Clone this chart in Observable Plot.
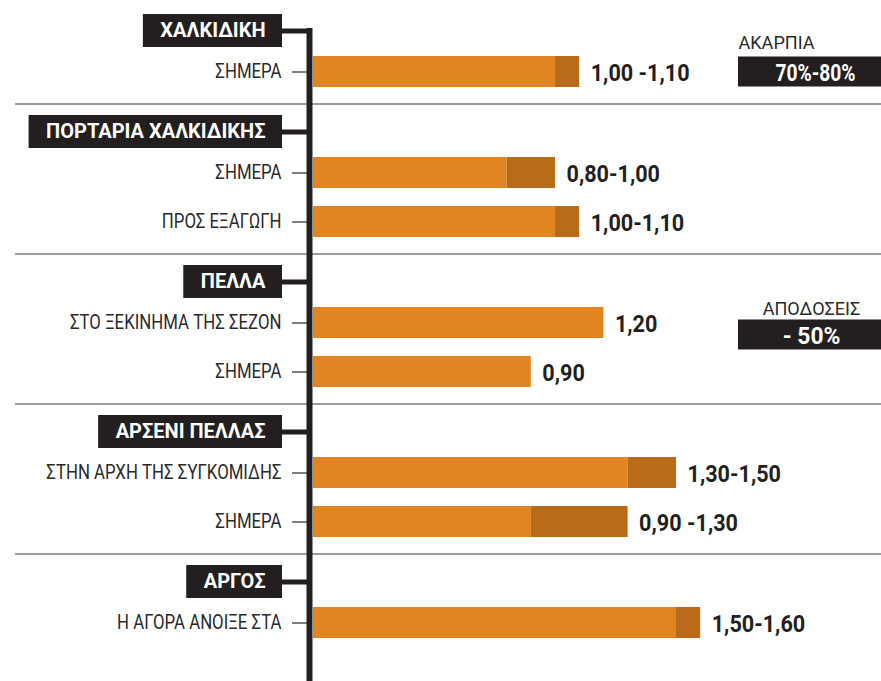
<!DOCTYPE html>
<html>
<head>
<meta charset="utf-8">
<script src="https://cdn.jsdelivr.net/npm/d3@7"></script>
<script src="https://cdn.jsdelivr.net/npm/@observablehq/plot@0.6"></script>
<style>
  html, body { margin: 0; padding: 0; background: #fff; }
</style>
</head>
<body>
<div id="chart"></div>
<script>
// ---- data ----
const regions = ["ΧΑΛΚΙΔΙΚΗ", "ΠΟΡΤΑΡΙΑ ΧΑΛΚΙΔΙΚΗΣ", "ΠΕΛΛΑ", "ΑΡΣΕΝΙ ΠΕΛΛΑΣ", "ΑΡΓΟΣ"];
const rowRegion = [0, 1, 1, 2, 2, 3, 3, 4];
const rowLabels = ["ΣΗΜΕΡΑ", "ΣΗΜΕΡΑ", "ΠΡΟΣ ΕΞΑΓΩΓΗ", "ΣΤΟ ΞΕΚΙΝΗΜΑ ΤΗΣ ΣΕΖΟΝ", "ΣΗΜΕΡΑ", "ΣΤΗΝ ΑΡΧΗ ΤΗΣ ΣΥΓΚΟΜΙΔΗΣ", "ΣΗΜΕΡΑ", "Η ΑΓΟΡΑ ΑΝΟΙΞΕ ΣΤΑ"];
const priceLow  = [1.00, 0.80, 1.00, 1.20, 0.90, 1.30, 0.90, 1.50];
const priceHigh = [1.10, 1.00, 1.10, null, null, 1.50, 1.30, 1.60];
const priceLabels = ["1,00 -1,10", "0,80-1,00", "1,00-1,10", "1,20", "0,90", "1,30-1,50", "0,90 -1,30", "1,50-1,60"];
const noteTitles = ["ΑΚΑΡΠΙΑ", "ΑΠΟΔΟΣΕΙΣ"];
const noteValues = ["70%-80%", "- 50%"];
const noteRow = [0, 3];

// ---- style / layout ----
const FONT = '"Roboto", "Liberation Sans", sans-serif';
const INK = "#231f20";
const LIGHT = "#e18421";
const DARK = "#b86b18";
const W = 881, H = 681;
const PX_PER_UNIT = 242, X0 = 313;
const xs = d3.scaleLinear().domain([0, 1.6]).range([X0, X0 + 1.6 * PX_PER_UNIT]);
const px = v => xs.invert(v);
const GAP = {headerToRow: 41, rowToRow: 49, rowToSep: 32, sepToHeader: 28};

const rows = rowLabels.map((label, i) => ({
  label, region: rowRegion[i], low: priceLow[i], high: priceHigh[i], text: priceLabels[i]
}));
const headers = regions.map(name => ({name}));
const seps = [];
let cur = 30.5;
headers.forEach((h, g) => {
  if (g > 0) { cur += GAP.rowToSep; seps.push(cur); cur += GAP.sepToHeader; }
  h.y = cur;
  rows.filter(d => d.region === g).forEach((d, k) => {
    cur += k === 0 ? GAP.headerToRow : GAP.rowToRow;
    d.y = cur;
  });
});
const notes = noteTitles.map((t, i) => ({title: t, value: noteValues[i], y: rows[noteRow[i]].y + (i === 1 ? 12 : 0)}));

// measure header text widths
const ctx = document.createElement("canvas").getContext("2d");
const HEADER_SIZE = 20;
ctx.font = `bold ${HEADER_SIZE}px ${FONT}`;
headers.forEach(h => { h.w = ctx.measureText(h.name).width; });
const BOX_RIGHT = 282, BOX_PAD = 17, AXIS_X = 309;

const chart = Plot.plot({
  width: W, height: H, margin: 0,
  style: {fontFamily: FONT, background: "#fff"},
  x: {domain: [0, 1.6], range: [X0, X0 + 1.6 * PX_PER_UNIT], axis: null},
  y: {domain: [0, H], range: [0, H], axis: null},
  marks: [
    // separators
    Plot.ruleY(seps, {y: d => d, x1: px(15), x2: px(W), stroke: "#3a3a3a", strokeWidth: 1.2}),
    // row ticks
    Plot.ruleY(rows, {y: "y", x1: px(292), x2: px(AXIS_X), stroke: "#555", strokeWidth: 1.5}),
    // bars
    Plot.rect(rows, {x1: 0, x2: "low", y1: d => d.y - 15.5, y2: d => d.y + 15.5, fill: LIGHT}),
    Plot.rect(rows.filter(d => d.high != null), {x1: "low", x2: "high", y1: d => d.y - 15.5, y2: d => d.y + 15.5, fill: DARK}),
    // header connectors
    Plot.ruleY(headers, {y: "y", x1: px(BOX_RIGHT), x2: px(AXIS_X), stroke: INK, strokeWidth: 5}),
    // vertical axis
    Plot.ruleX([px(AXIS_X)], {y1: headers[0].y - 2.5, y2: H, stroke: INK, strokeWidth: 6}),
    // header boxes
    Plot.rect(headers, {x1: d => px(BOX_RIGHT - d.w - 2 * BOX_PAD), x2: px(BOX_RIGHT), y1: d => d.y - 16.5, y2: d => d.y + 16.5, fill: INK}),
    Plot.text(headers, {x: px(BOX_RIGHT), dx: -BOX_PAD, y: "y", text: "name", textAnchor: "end", fill: "#fff", fontWeight: "bold", fontSize: HEADER_SIZE}),
    // row labels
    Plot.text(rows, {x: px(281), y: "y", text: "label", textAnchor: "end", fill: "#2a2a2a", fontSize: 20, ariaDescription: "cond-84"}),
    // value labels
    Plot.text(rows, {x: d => d.high ?? d.low, dx: 11, y: "y", dy: 1, text: "text", textAnchor: "start", fill: INK, fontWeight: "bold", fontSize: 24, ariaDescription: "cond-90"}),
    // notes
    Plot.rect(notes, {x1: px(738), x2: px(W), y1: d => d.y - 15, y2: d => d.y + 15, fill: INK}),
    Plot.text([notes[0]], {x: px(738), y: d => d.y - 29, text: "title", textAnchor: "start", fill: "#2a2a2a", fontSize: 19, ariaDescription: "cond-95"}),
    Plot.text([notes[0]], {x: px(775), y: "y", dy: 1, text: "value", textAnchor: "start", fill: "#fff", fontWeight: "bold", fontSize: 24, ariaDescription: "cond-80"}),
    Plot.text([notes[1]], {x: px(811), y: d => d.y - 26, text: "title", textAnchor: "middle", fill: "#2a2a2a", fontSize: 19, ariaDescription: "cond-95"}),
    Plot.text([notes[1]], {x: px(811), y: "y", dy: 1, text: "value", textAnchor: "middle", fill: "#fff", fontWeight: "bold", fontSize: 24, ariaDescription: "cond-95"})
  ]
});
document.getElementById("chart").appendChild(chart);

// horizontally condense text to mimic the narrow typeface of the original
chart.querySelectorAll("g[aria-description^='cond-']").forEach(g => {
  const f = +g.getAttribute("aria-description").slice(5) / 100;
  g.querySelectorAll("text").forEach(t => {
    const len = t.getComputedTextLength();
    t.setAttribute("lengthAdjust", "spacingAndGlyphs");
    t.setAttribute("textLength", (len * f).toFixed(1));
  });
});
</script>
</body>
</html>
